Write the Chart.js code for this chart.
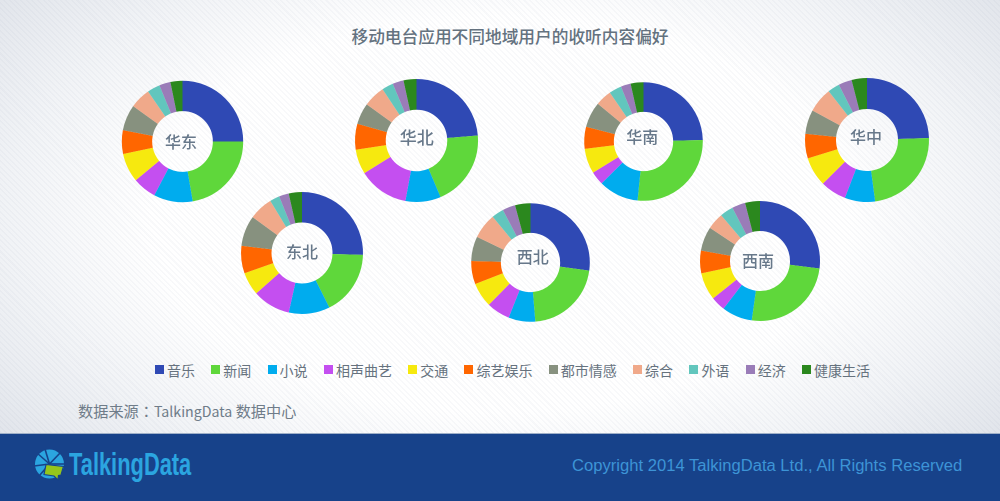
<!DOCTYPE html>
<html lang="zh"><head><meta charset="utf-8">
<script src="https://cdn.jsdelivr.net/npm/chart.js@4"></script>
<style>
html,body{margin:0;padding:0;width:1000px;height:501px;overflow:hidden;font-family:"Noto Sans CJK SC","Noto Sans",sans-serif}
#stage{position:absolute;left:0;top:0;width:1000px;height:501px;overflow:hidden;
background:
 repeating-linear-gradient(45deg,rgba(140,150,175,.06) 0 1.5px,rgba(255,255,255,0) 1.5px 4px),
 radial-gradient(ellipse 600px 340px at 500px 215px,#fff 58%,#f1f3f6 82%,#dde1e8 112%);}
#title{position:absolute;left:310px;width:400px;top:24px;text-align:center;font-size:16.7px;line-height:24px;color:#64727f;font-weight:500;white-space:nowrap}
.d{position:absolute}
.d canvas{display:block}
.lab{position:absolute;transform:translate(-50%,-50%);font-size:16px;line-height:20px;color:#67788a;font-weight:500;white-space:nowrap;pointer-events:none}
#legend{position:absolute;left:155px;top:360px;display:flex;gap:16.3px;font-size:14px;line-height:20px;color:#66727e;white-space:nowrap}
#legend span.i{display:flex;align-items:center}
#legend i{display:block;width:9px;height:9px;margin-right:3px;position:relative;top:-1px}
#source{position:absolute;left:78px;top:399px;font-size:15.2px;line-height:22px;color:#6f7c89;white-space:nowrap}
#source .lt{font-size:14.2px}
#source .cp{font-family:"Noto Sans CJK TC"}
#footer{position:absolute;left:0;top:433px;width:1000px;height:68px;background:#17428a;border-top:1px solid #9fb0c8;box-sizing:border-box}
#copy{position:absolute;left:572px;top:456px;font-family:"Liberation Sans",Arial,sans-serif;font-size:16.62px;line-height:20px;color:#3d94d6;white-space:nowrap}
#logoText{position:absolute;left:69px;top:447px;font-family:"Liberation Sans",Arial,sans-serif;font-weight:700;font-size:31px;line-height:36px;color:#2ba5e0;transform-origin:0 50%;transform:scaleX(.705);white-space:nowrap}
#logo{position:absolute;left:34px;top:449px}
</style></head><body>
<div id="stage">
 <div id="title"></div>
 <div id="legend"></div>
 <div id="source"><span id="s1"></span><span class="cp" lang="zh-TW" id="s2"></span><span class="lt" id="s3"></span><span id="s4"></span></div>
 <div id="footer"></div>
 <svg id="logo" width="32" height="32" viewBox="0 0 32 32">
  <circle cx="15.5" cy="15" r="14.5" fill="#2ba5e0"/>
  <g stroke="#17428a" stroke-width="1.6"><line x1="15.5" y1="15" x2="11" y2="0"/><line x1="15.5" y1="15" x2="27" y2="3"/><line x1="15.5" y1="15" x2="31" y2="15"/><line x1="15.5" y1="15" x2="3" y2="4"/><line x1="15.5" y1="15" x2="0" y2="17"/><line x1="15.5" y1="15" x2="5" y2="27"/></g>
  <path d="M12 15.5L29.5 17.5 27 26 24.5 26.5 24 31 20 27 10 25.5Z" fill="#95c61c" stroke="#17428a" stroke-width="1.2"/>
 </svg>
 <div id="logoText">TalkingData</div>
 <div id="copy"></div>
</div>
<script>
const categories=["音乐","新闻","小说","相声曲艺","交通","综艺娱乐","都市情感","综合","外语","经济","健康生活"];
const colors=["#2f49b4","#5fd73b","#00acee","#c44ff0","#f6e90f","#ff6600","#87917f","#f0a98a","#62c6bd","#9a7cb8","#2b881e"];
const regionNames=["华东","华北","华南","华中","东北","西北","西南"];
const huadong=[25,22.3,10.4,6.3,7.7,6.3,6.9,5.5,3.4,3,3.2];
const huabei=[23.7,19.9,9.3,13.2,6.5,6.8,5.6,5.7,3,2.9,3.4];
const huanan=[24.6,27,10.9,3.7,6.8,6,7,4.4,3.4,2.7,3.5];
const huazhong=[24.5,23.4,7.9,6.8,7.6,6.4,6.3,6.5,3.1,3.5,4];
const dongbei=[25.5,17.1,10.9,10,6.1,7.3,8.1,6.3,2.6,2.6,3.5];
const xibei=[27.2,21.5,7.3,6.4,6.7,6.3,6.7,6.9,3.3,3.5,4.2];
const xinan=[27,25.2,8.2,3.9,7.4,6.1,6.5,4.5,3.6,3.6,4];
const regionValues=[huadong,huabei,huanan,huazhong,dongbei,xibei,xinan];
const titleText="移动电台应用不同地域用户的收听内容偏好";
const sourceParts=["数据来源","：","TalkingData"," 数据中心"];
const copyText="Copyright 2014 TalkingData Ltd., All Rights Reserved";

/* layout only: centre x, centre y, outer radius, label x, label y, label size */
const placement=[[182.3,141,60.7,181,140.7,16],[416.5,140,61.5,416.7,136.7,17],[643.3,141.3,59.3,642.3,136,16],[867,139.7,62,866,136,16],[302.3,253,61,302,251,16],[530.3,262.3,59.3,532.7,256,16],[759.7,261,60,758,260,16]];

const stage=document.getElementById("stage");
document.getElementById("title").textContent=titleText;
sourceParts.forEach((t,i)=>{document.getElementById("s"+(i+1)).textContent=t;});
document.getElementById("copy").textContent=copyText;
const legend=document.getElementById("legend");
categories.forEach((c,i)=>{
  const s=document.createElement("span");s.className="i";
  const m=document.createElement("i");m.style.background=colors[i];
  s.appendChild(m);s.appendChild(document.createTextNode(c));legend.appendChild(s);
});
regionNames.forEach((name,k)=>{
  const [cx,cy,r,lx,ly,ls]=placement[k];
  const box=document.createElement("div");box.className="d";
  const size=Math.round(2*r)+2;
  box.style.cssText=`left:${cx-size/2}px;top:${cy-size/2}px;width:${size}px;height:${size}px`;
  const cv=document.createElement("canvas");cv.width=size;cv.height=size;
  cv.style.width=size+"px";cv.style.height=size+"px";
  box.appendChild(cv);
  stage.appendChild(box);
  const lab=document.createElement("div");lab.className="lab";lab.textContent=name;
  lab.style.left=lx+"px";lab.style.top=ly+"px";lab.style.fontSize=ls+"px";
  stage.appendChild(lab);
  new Chart(cv,{type:"doughnut",
    data:{labels:categories,datasets:[{data:regionValues[k],backgroundColor:colors,borderWidth:0}]},
    options:{responsive:false,animation:false,cutout:"50%",radius:r,devicePixelRatio:2,
      layout:{padding:0},plugins:{legend:{display:false},tooltip:{enabled:false},title:{display:false}}}});
});
</script>
</body></html>
